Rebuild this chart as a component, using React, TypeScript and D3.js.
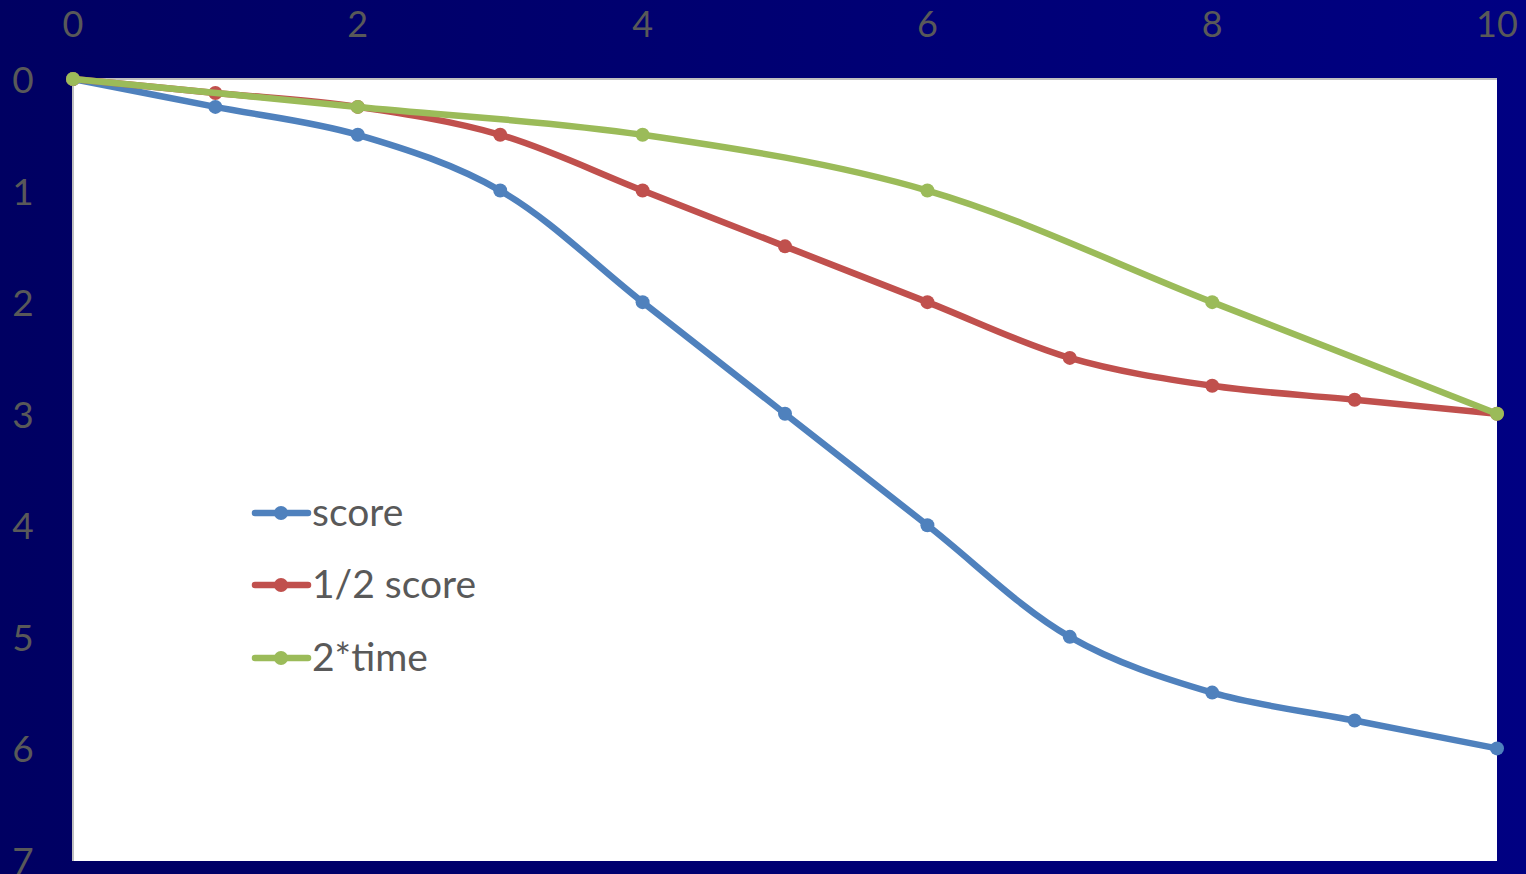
import React from "react";
import * as d3 from "d3";

// Step values along the x axis
const stepsAll = [0, 1, 2, 3, 4, 5, 6, 7, 8, 9, 10];
const stepsEven = [0, 2, 4, 6, 8, 10];

// Series values
const scoreValues = [0, 0.25, 0.5, 1, 2, 3, 4, 5, 5.5, 5.75, 6];
const halfScoreValues = [0, 0.125, 0.25, 0.5, 1, 1.5, 2, 2.5, 2.75, 2.875, 3];
const doubleTimeValues = [0, 0.25, 0.5, 1, 2, 3];

// Axis tick labels
const xTicks = [0, 2, 4, 6, 8, 10];
const yTicks = [0, 1, 2, 3, 4, 5, 6, 7];

const seriesNames = ["score", "1/2 score", "2*time"];
const seriesColors = ["#4f81bd", "#c0504d", "#9bbb59"];

const W = 1526;
const H = 874;
const plot = { left: 73, right: 1497, top: 79, bottom: 861 };
const FONT = "Lato, 'Open Sans', sans-serif";

export default function App() {
  const x = d3.scaleLinear().domain([0, 10]).range([plot.left, plot.right]);
  const y = d3.scaleLinear().domain([0, 7]).range([plot.top, plot.top + (748.4 - 79) * 7 / 6]);

  const series = [
    { name: seriesNames[0], color: seriesColors[0], xs: stepsAll, ys: scoreValues },
    { name: seriesNames[1], color: seriesColors[1], xs: stepsAll, ys: halfScoreValues },
    { name: seriesNames[2], color: seriesColors[2], xs: stepsEven, ys: doubleTimeValues },
  ];

  const line = d3
    .line<[number, number]>()
    .x((d) => x(d[0]))
    .y((d) => y(d[1]))
    .curve(d3.curveCatmullRom.alpha(0.5));

  const legendX = 253;
  const legendRows = [513, 585, 658];

  return (
    <svg
      width={W}
      height={H}
      style={{ position: "absolute", left: 0, top: 0, display: "block" }}
    >
      <defs>
        <linearGradient id="bg" x1="0" y1="0" x2="1" y2="0">
          <stop offset="0" stopColor="#000062" />
          <stop offset="1" stopColor="#000082" />
        </linearGradient>
      </defs>
      <rect x={0} y={0} width={W} height={H} fill="url(#bg)" />
      <rect
        x={plot.left}
        y={plot.top}
        width={plot.right - plot.left}
        height={plot.bottom - plot.top}
        fill="#ffffff"
      />
      {/* axis lines */}
      <line x1={plot.left} x2={plot.right} y1={plot.top} y2={plot.top} stroke="#bfbfbf" strokeWidth={2} />
      <line x1={plot.left} x2={plot.left} y1={plot.top} y2={plot.bottom} stroke="#bfbfbf" strokeWidth={2} />

      {/* x tick labels (top) */}
      {xTicks.map((t) => (
        <text
          key={"x" + t}
          x={x(t)}
          y={37}
          textAnchor="middle"
          fontFamily={FONT}
          fontSize={36}
          fill="#595959"
        >
          {t}
        </text>
      ))}
      {/* y tick labels (left) */}
      {yTicks.map((t) => (
        <text
          key={"y" + t}
          x={23}
          y={y(t) + 14}
          textAnchor="middle"
          fontFamily={FONT}
          fontSize={37}
          fill="#595959"
        >
          {t}
        </text>
      ))}

      {/* series */}
      {series.map((s) => {
        const pts: [number, number][] = s.xs.map((v, i) => [v, s.ys[i]]);
        return (
          <g key={s.name}>
            <path d={line(pts) || ""} fill="none" stroke={s.color} strokeWidth={6.5} strokeLinejoin="round" strokeLinecap="round" />
            {pts.map((p, i) => (
              <circle key={i} cx={x(p[0])} cy={y(p[1])} r={7} fill={s.color} />
            ))}
          </g>
        );
      })}

      {/* legend */}
      {series.map((s, i) => (
        <g key={"leg" + s.name}>
          <line
            x1={legendX + 2}
            x2={legendX + 55}
            y1={legendRows[i]}
            y2={legendRows[i]}
            stroke={s.color}
            strokeWidth={6.5}
            strokeLinecap="round"
          />
          <circle cx={legendX + 28} cy={legendRows[i]} r={7} fill={s.color} />
          <text
            x={legendX + 59}
            y={legendRows[i] + 13}
            fontFamily={FONT}
            fontSize={39}
            fill="#595959"
          >
            {s.name}
          </text>
        </g>
      ))}
    </svg>
  );
}
